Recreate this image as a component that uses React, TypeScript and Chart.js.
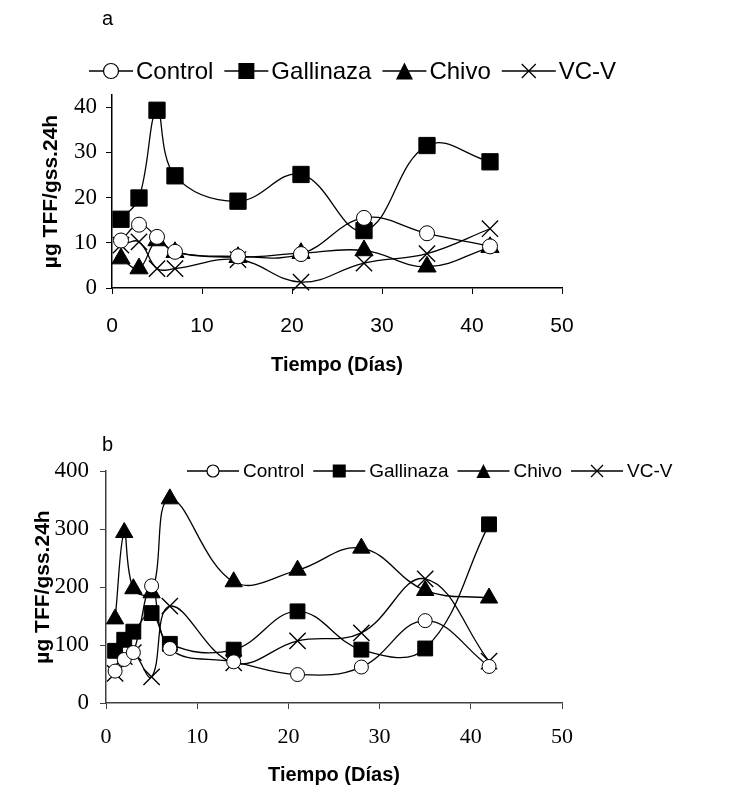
import React, { useEffect, useRef } from 'react';
import { Chart, registerables } from 'chart.js';

Chart.register(...registerables);

// ---------------- data ----------------
const seriesNames = ['Control', 'Gallinaza', 'Chivo', 'VC-V'];

const daysA = [1, 3, 5, 7, 14, 21, 28, 35, 42];
const controlA = [10.5, 14.0, 11.3, 8.0, 7.0, 7.5, 15.5, 12.1, 9.2];
const gallinazaA = [15.2, 19.9, 39.3, 24.8, 19.2, 25.1, 12.7, 31.5, 27.9];
const chivoA = [6.5, 4.3, 10.5, 7.9, 6.8, 7.7, 8.3, 4.7, 9.0];
const vcvA = [9.5, 10.2, 4.3, 4.3, 6.3, 1.3, 5.5, 7.6, 13.1];

const daysB = [1, 2, 3, 5, 7, 14, 21, 28, 35, 42];
const controlB = [55, 75, 87, 202, 94, 71, 49, 62, 142, 63];
const gallinazaB = [90, 109, 123, 155, 102, 92, 158, 92, 94, 308];
const chivoB = [145, 294, 197, 190, 352, 209, 229, 267, 194, 181];
const vcvB = [51, 80, 87, 45, 167, 69, 107, 121, 214, 72];

const xTicks = [0, 10, 20, 30, 40, 50];
const yTicksA = [0, 10, 20, 30, 40];
const yTicksB = [0, 100, 200, 300, 400];

const yTitle = 'µg TFF/gss.24h';
const xTitle = 'Tiempo (Días)';

// ---------------- styles ----------------
const SANS = "Arial, 'Liberation Sans', sans-serif";
const SERIF = "'Times New Roman', 'Liberation Serif', serif";
const markerKinds = ['circle', 'square', 'triangle', 'cross'];

function drawMarker(ctx: CanvasRenderingContext2D, kind: string, x: number, y: number, s: number) {
  ctx.save();
  ctx.strokeStyle = '#000';
  ctx.fillStyle = '#000';
  ctx.lineWidth = 1.2;
  ctx.beginPath();
  if (kind === 'circle') {
    ctx.arc(x, y, s / 2, 0, Math.PI * 2);
    ctx.fillStyle = '#fff';
    ctx.fill();
    ctx.stroke();
  } else if (kind === 'square') {
    ctx.rect(x - s / 2, y - s / 2, s, s);
    ctx.fill();
  } else if (kind === 'triangle') {
    ctx.moveTo(x, y - s / 2);
    ctx.lineTo(x + s / 2, y + s / 2);
    ctx.lineTo(x - s / 2, y + s / 2);
    ctx.closePath();
    ctx.fill();
  } else {
    ctx.lineWidth = 1.3;
    ctx.moveTo(x - s / 2, y - s / 2);
    ctx.lineTo(x + s / 2, y + s / 2);
    ctx.moveTo(x + s / 2, y - s / 2);
    ctx.lineTo(x - s / 2, y + s / 2);
    ctx.stroke();
  }
  ctx.restore();
}

function legendPlugin(id: string, cfg: any) {
  return {
    id,
    afterDraw(chart: any) {
      const ctx: CanvasRenderingContext2D = chart.ctx;
      ctx.save();
      ctx.font = `${cfg.fontSize}px ${SANS}`;
      ctx.textBaseline = 'middle';
      ctx.fillStyle = '#000';
      let x = cfg.x0;
      const y = cfg.y;
      seriesNames.forEach((name, i) => {
        const w = cfg.symW[i];
        ctx.save();
        ctx.strokeStyle = '#000';
        ctx.lineWidth = 1.3;
        ctx.beginPath();
        ctx.moveTo(x, y);
        ctx.lineTo(x + w, y);
        ctx.stroke();
        ctx.restore();
        drawMarker(ctx, markerKinds[i], x + w / 2, y, cfg.markerSizes[i]);
        x += w + cfg.gapText;
        ctx.fillText(name, x, y + 1);
        x += ctx.measureText(name).width + cfg.gapItem;
      });
      ctx.restore();
    },
  };
}

function makeDatasets(days: number[], series: number[][], sizes: number[]) {
  const styles = ['circle', 'rect', 'triangle', 'crossRot'];
  return series.map((vals, i) => ({
    label: seriesNames[i],
    data: days.map((d, j) => ({ x: d, y: vals[j] })),
    borderColor: '#000',
    borderWidth: 1.3,
    tension: 0.4,
    fill: false,
    clip: false as any,
    pointStyle: styles[i],
    pointRadius: sizes[i],
    pointBackgroundColor: i === 0 ? '#fff' : '#000',
    pointBorderColor: '#000',
    pointBorderWidth: i === 3 ? 1.4 : 1,
  }));
}

function makeOptions(p: any) {
  return {
    animation: false,
    responsive: false,
    maintainAspectRatio: false,
    layout: { padding: p.padding },
    plugins: { legend: { display: false }, tooltip: { enabled: false } },
    scales: {
      x: {
        type: 'linear',
        min: 0,
        max: 50,
        afterBuildTicks: (s: any) => {
          s.ticks = xTicks.map((v) => ({ value: v }));
        },
        afterFit: (s: any) => {
          s.height = p.xHeight;
        },
        grid: { drawOnChartArea: false, drawTicks: true, tickLength: 6, color: p.axisColor, lineWidth: 1 },
        border: { color: p.axisColor, width: 1.5 },
        ticks: {
          font: { family: p.xTickFont, size: p.xTickSize },
          color: '#000',
          padding: p.xTickPad,
          maxRotation: 0,
        },
        title: {
          display: true,
          text: xTitle,
          font: { family: SANS, size: 20, weight: 'bold' },
          color: '#000',
          padding: { top: 0, bottom: p.xTitlePad },
        },
      },
      y: {
        type: 'linear',
        min: 0,
        max: p.yMax,
        afterBuildTicks: (s: any) => {
          s.ticks = p.yTicks.map((v: number) => ({ value: v }));
        },
        afterFit: (s: any) => {
          s.width = p.yWidth;
        },
        grid: { drawOnChartArea: false, drawTicks: true, tickLength: 6, color: p.axisColor, lineWidth: 1 },
        border: { color: p.axisColor, width: 1.5 },
        ticks: {
          font: { family: SERIF, size: p.yTickSize },
          color: '#000',
          padding: p.yTickPad,
        },
        title: {
          display: true,
          text: yTitle,
          font: { family: SANS, size: 21, weight: 'bold' },
          color: '#000',
          padding: { top: 0, bottom: 0 },
        },
      },
    },
  };
}

function ChartA() {
  const ref = useRef<HTMLCanvasElement>(null);
  useEffect(() => {
    const chart = new Chart(ref.current as HTMLCanvasElement, {
      type: 'line',
      data: { datasets: makeDatasets(daysA, [controlA, gallinazaA, chivoA, vcvA], [7.5, 11.5, 10.5, 11.5]) as any },
      options: makeOptions({
        padding: { top: 95, left: 39, right: 172, bottom: 22 },
        xHeight: 90,
        yWidth: 73,
        yMax: 42.67,
        yTicks: yTicksA,
        axisColor: '#000',
        xTickFont: SANS,
        xTickSize: 21,
        yTickSize: 23,
        xTickPad: 20,
        yTickPad: 9,
        xTitlePad: 1,
      }) as any,
      plugins: [
        legendPlugin('legendA', {
          x0: 89,
          y: 71,
          symW: [44, 44, 44, 54],
          gapText: 3,
          gapItem: 11,
          fontSize: 24,
          markerSizes: [15, 16, 17, 14],
        }),
      ],
    });
    return () => chart.destroy();
  }, []);
  return <canvas ref={ref} width={734} height={400} style={{ position: 'absolute', left: 0, top: 0, width: 734, height: 400 }} />;
}

function ChartB() {
  const ref = useRef<HTMLCanvasElement>(null);
  useEffect(() => {
    const chart = new Chart(ref.current as HTMLCanvasElement, {
      type: 'line',
      data: { datasets: makeDatasets(daysB, [controlB, gallinazaB, chivoB, vcvB], [7, 10.5, 10, 11.5]) as any },
      options: makeOptions({
        padding: { top: 71, left: 31, right: 172, bottom: 5 },
        xHeight: 84,
        yWidth: 75,
        yMax: 400,
        yTicks: yTicksB,
        axisColor: '#404040',
        xTickFont: SERIF,
        xTickSize: 22,
        yTickSize: 23,
        xTickPad: 15,
        yTickPad: 11,
        xTitlePad: 0,
      }) as any,
      plugins: [
        legendPlugin('legendB', {
          x0: 187,
          y: 71,
          symW: [52, 52, 52, 52],
          gapText: 4,
          gapItem: 9,
          fontSize: 19,
          markerSizes: [12, 13, 14, 12],
        }),
      ],
    });
    return () => chart.destroy();
  }, []);
  return <canvas ref={ref} width={734} height={392} style={{ position: 'absolute', left: 0, top: 400, width: 734, height: 392 }} />;
}

export default function App() {
  const labelStyle: React.CSSProperties = {
    position: 'absolute',
    fontFamily: SANS,
    fontSize: 20,
    color: '#000',
    lineHeight: '24px',
  };
  return (
    <div style={{ position: 'absolute', left: 0, top: 0, width: 734, height: 792, background: '#fff', overflow: 'hidden' }}>
      <ChartA />
      <ChartB />
      <div style={{ ...labelStyle, left: 102, top: 6 }}>a</div>
      <div style={{ ...labelStyle, left: 102, top: 432 }}>b</div>
    </div>
  );
}
